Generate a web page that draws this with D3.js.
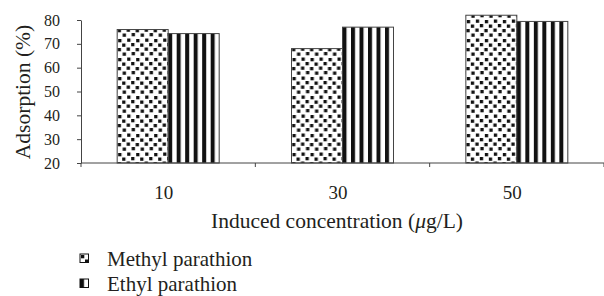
<!DOCTYPE html>
<html>
<head>
    <meta charset="utf-8">
    <script src="https://d3js.org/d3.v7.min.js"></script>
    <style>
        body { margin: 0; background: #fff; }
        text { font-family: "Liberation Serif", serif; fill: #231f20; }
    </style>
</head>
<body>
<script>
    // chart data
    var concentrations = ["10", "30", "50"];
    var seriesNames = ["Methyl parathion", "Ethyl parathion"];
    var methylValues = [76, 68, 82];
    var ethylValues = [74.3, 77, 79.4];
    var yTicks = [20, 30, 40, 50, 60, 70, 80];

    var width = 604,
        height = 296,
        plotLeft = 81,
        plotRight = 604,
        plotTop = 20,
        plotBottom = 163;

    var rows = concentrations.map(function(c, i) {
        return {cat: c, values: [methylValues[i], ethylValues[i]]};
    });

    var svg = d3.select("body").append("svg")
        .attr("width", width)
        .attr("height", height);

    var defs = svg.append("defs");

    // confetti pattern for methyl
    var confetti = defs.append("pattern")
        .attr("id", "confetti")
        .attr("patternUnits", "userSpaceOnUse")
        .attr("width", 18)
        .attr("height", 19);
    confetti.append("rect").attr("width", 18).attr("height", 19).attr("fill", "#fff");
    [[1,1],[10,0.5],[5,5.5],[14,5],[0.5,10],[9.5,9.5],[5.5,14.5],[14.5,14]].forEach(function(p) {
        confetti.append("rect")
            .attr("x", p[0]).attr("y", p[1])
            .attr("width", 3.3).attr("height", 3.3)
            .attr("fill", "#111");
    });

    // vertical stripes for ethyl
    var stripes = defs.append("pattern")
        .attr("id", "stripes")
        .attr("patternUnits", "userSpaceOnUse")
        .attr("width", 8.5)
        .attr("height", 10);
    stripes.append("rect").attr("width", 8.5).attr("height", 10).attr("fill", "#fff");
    stripes.append("rect").attr("width", 4).attr("height", 10).attr("fill", "#111");

    var fills = ["url(#confetti)", "url(#stripes)"];

    var x0 = d3.scaleBand()
        .domain(concentrations)
        .range([plotLeft, plotRight])
        .paddingInner(0.415)
        .paddingOuter(0.2075);

    var x1 = d3.scaleBand()
        .domain(d3.range(seriesNames.length))
        .range([0, x0.bandwidth()]);

    var y = d3.scaleLinear()
        .domain([20, 80])
        .range([plotBottom, plotTop]);

    // bars
    var groups = svg.append("g").selectAll("g")
        .data(rows)
        .enter().append("g")
        .attr("transform", function(d) { return "translate(" + x0(d.cat) + ",0)"; });

    groups.selectAll("rect")
        .data(function(d) { return d.values; })
        .enter().append("rect")
        .attr("x", function(d, i) { return x1(i); })
        .attr("y", function(d) { return y(d); })
        .attr("width", x1.bandwidth())
        .attr("height", function(d) { return y(20) - y(d); })
        .attr("fill", function(d, i) { return fills[i]; })
        .attr("stroke", "#444")
        .attr("stroke-width", 1);

    // y axis
    var yAxis = svg.append("g")
        .attr("transform", "translate(" + plotLeft + ",0)")
        .call(d3.axisLeft(y).tickValues(yTicks).tickSize(4).tickPadding(17).tickSizeOuter(0));
    yAxis.select(".domain").attr("stroke", "#444");
    yAxis.selectAll(".tick line").attr("stroke", "#444");
    yAxis.selectAll("text")
        .style("font-family", "Liberation Serif, serif")
        .style("font-size", "16px")
        .attr("fill", "#231f20");

    // x axis
    var step = x0.step();
    var bounds = d3.range(concentrations.length + 1).map(function(i) { return plotLeft + i * step; });
    var xAxis = svg.append("g");
    xAxis.append("line")
        .attr("x1", plotLeft).attr("x2", plotRight)
        .attr("y1", plotBottom).attr("y2", plotBottom)
        .attr("stroke", "#444");
    xAxis.selectAll(".xtick")
        .data(bounds)
        .enter().append("line")
        .attr("class", "xtick")
        .attr("x1", function(d) { return d; }).attr("x2", function(d) { return d; })
        .attr("y1", plotBottom).attr("y2", plotBottom + 4)
        .attr("stroke", "#444");
    xAxis.selectAll(".xlabel")
        .data(concentrations)
        .enter().append("text")
        .attr("class", "xlabel")
        .attr("x", function(d) { return x0(d) + x0.bandwidth() / 2 - 4.5; })
        .attr("y", 199)
        .attr("text-anchor", "middle")
        .style("font-size", "19px")
        .text(function(d) { return d; });

    // axis titles
    var xt = svg.append("text")
        .attr("x", 337)
        .attr("y", 228)
        .attr("text-anchor", "middle")
        .style("font-size", "21.5px");
    xt.append("tspan").text("Induced concentration (");
    xt.append("tspan").style("font-style", "italic").text("\u03bc");
    xt.append("tspan").text("g/L)");

    svg.append("text")
        .attr("transform", "translate(30,92) rotate(-90)")
        .attr("text-anchor", "middle")
        .style("font-size", "21.5px")
        .text("Adsorption (%)");

    // legend
    var legend = svg.append("g").selectAll("g")
        .data(seriesNames)
        .enter().append("g")
        .attr("transform", function(d, i) { return "translate(80," + (254 + i * 25) + ")"; });

    legend.append("rect")
        .attr("width", 8.5)
        .attr("height", 8.5)
        .attr("fill", function(d, i) { return fills[i]; })
        .attr("stroke", "#111")
        .attr("stroke-width", 1);

    legend.append("text")
        .attr("x", 27)
        .attr("y", 11.5)
        .style("font-size", "21px")
        .text(function(d) { return d; });
</script>
</body>
</html>
